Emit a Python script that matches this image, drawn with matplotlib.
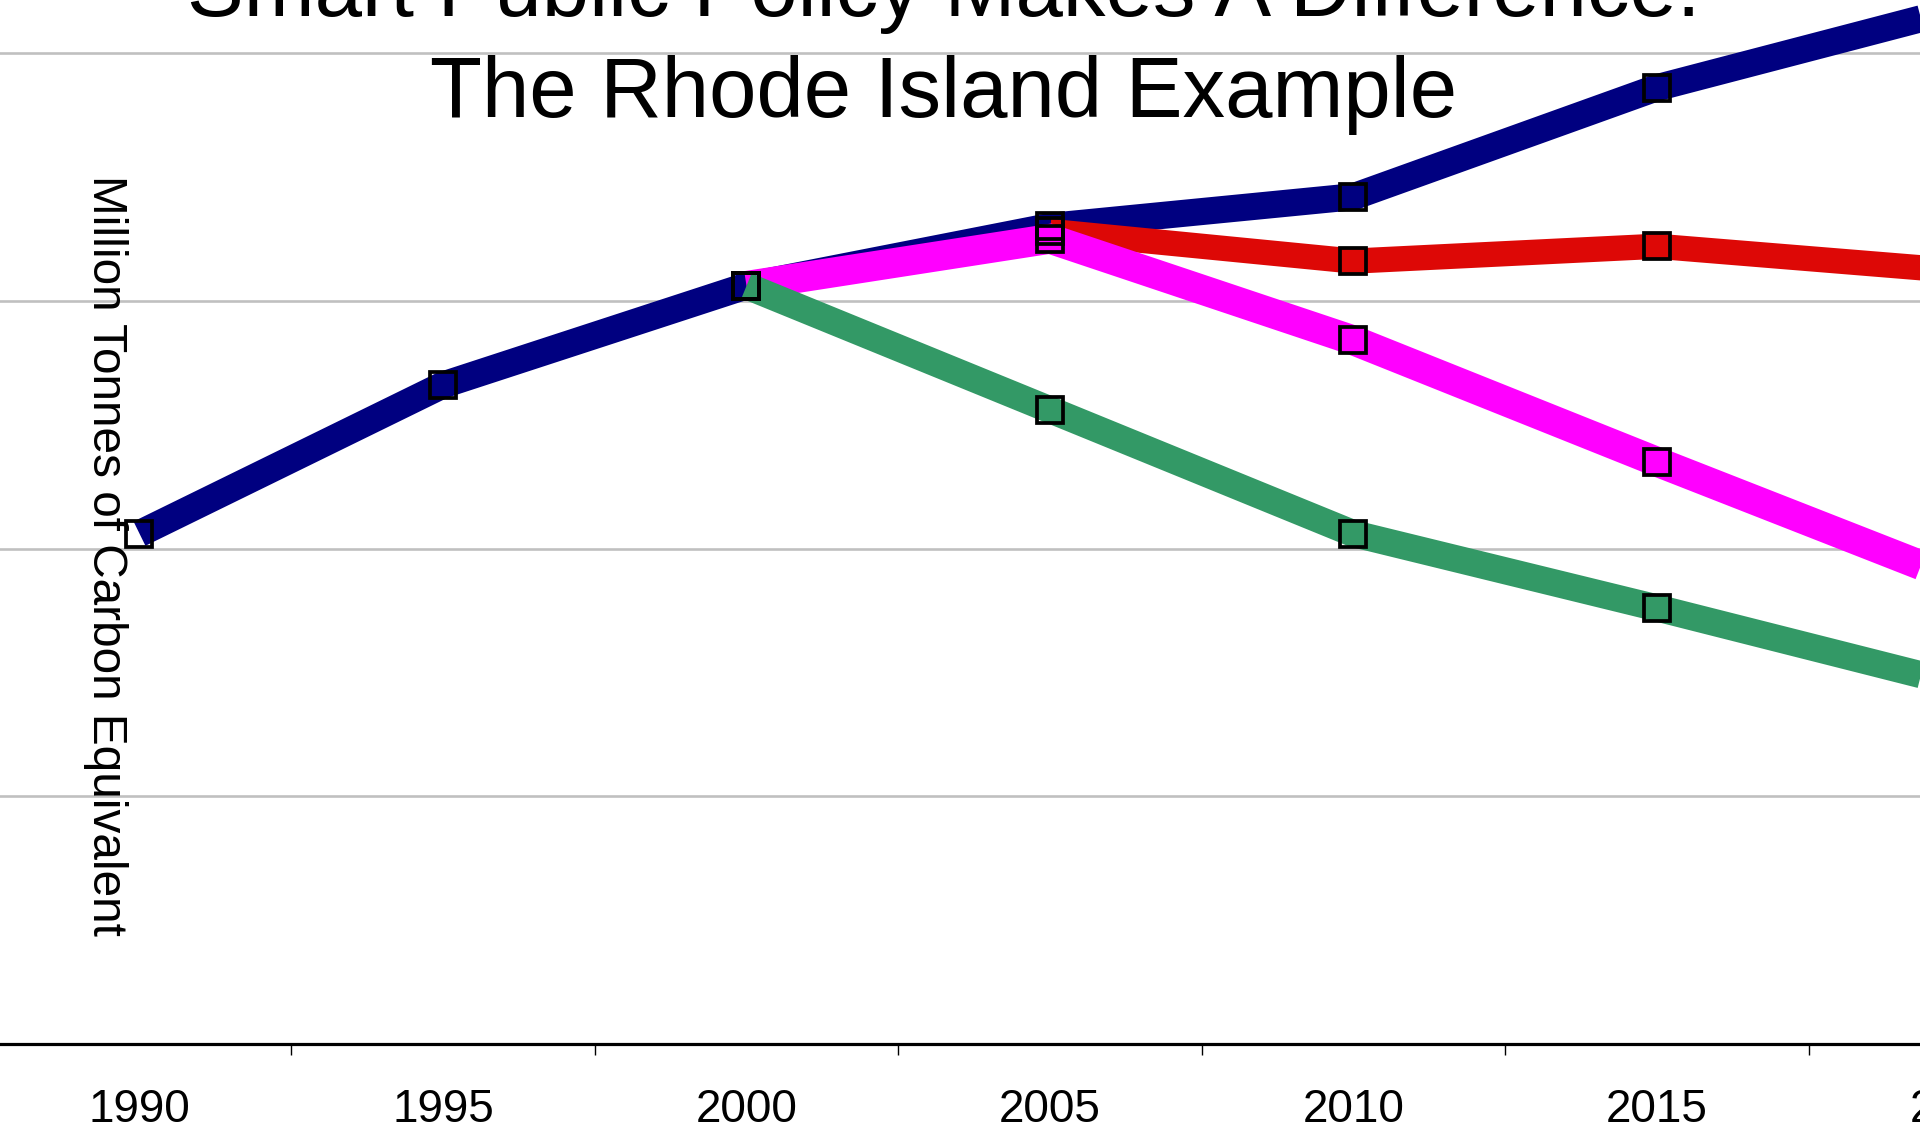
import matplotlib
matplotlib.use("Agg")
import matplotlib.pyplot as plt

plt.rcParams["font.family"] = ["Liberation Sans", "DejaVu Sans"]

# ---- data -----------------------------------------------------------------
years = [1990, 1995, 2000, 2005, 2010, 2015, 2020]
year_labels = ["1990", "1995", "2000", "2005", "2010", "2015", "2020"]

# Business-as-usual emissions (million tonnes carbon equivalent)
business_as_usual = [3.03, 3.33, 3.53, 3.65, 3.71, 3.93, 4.09]

# Policy scenarios branching off the baseline
stabilize_years = [2005, 2010, 2015, 2020]
stabilize = [3.64, 3.58, 3.61, 3.56]

moderate_years = [2000, 2005, 2010, 2015, 2020]
moderate_policy = [3.53, 3.625, 3.42, 3.175, 2.935]

strong_years = [2000, 2005, 2010, 2015, 2020]
strong_policy = [3.53, 3.28, 3.03, 2.88, 2.725]

gridline_values = [2.5, 3.0, 3.5, 4.0]
title_lines = ["Smart Public Policy Makes A Difference:", "The Rhode Island Example"]
y_label = "Million Tonnes of Carbon Equivalent"

# ---- figure ---------------------------------------------------------------
W, H = 1920, 1138
fig = plt.figure(figsize=(W / 100, H / 100), dpi=100)
fig.patch.set_facecolor("white")

# plot area is wider than the canvas: the category axis runs 1987.5 .. 2022.5
px_per_year = 60.7
x_first = 139.5
x_lo, x_hi = 1987.5, 2022.5
left_px = x_first - (years[0] - x_lo) * px_per_year
width_px = (x_hi - x_lo) * px_per_year
axis_px = 1044
ax = fig.add_axes([left_px / W, (H - axis_px) / H, width_px / W, axis_px / H])
ax.set_facecolor("white")

# horizontal gridlines
ax.set_yticks(gridline_values)
ax.yaxis.grid(True, color="#C0C0C0", linewidth=1.9)
ax.set_axisbelow(True)
ax.tick_params(axis="y", left=False, labelleft=False)

for side in ("left", "top", "right"):
    ax.spines[side].set_visible(False)
ax.spines["bottom"].set_color("black")
ax.spines["bottom"].set_linewidth(2.3)

# category axis: tick marks between years, labels under each year
ax.set_xticks([y + 2.5 for y in years[:-1]])
ax.set_xticklabels([])
ax.tick_params(axis="x", which="major", length=8, width=1.0, direction="out",
               color="black")
ax.set_xticks(years, minor=True)
ax.set_xticklabels(year_labels, minor=True)
ax.tick_params(axis="x", which="minor", length=0, pad=31.5, labelsize=33,
               labelcolor="black")

ax.set_xlim(x_lo, x_hi)
ax.set_ylim(2.0, 2.0 + axis_px / 495.5)

line_kw = dict(solid_joinstyle="miter", solid_capstyle="butt")
series = [
    (years, business_as_usual, "#000080", 19.5, 2),
    (stabilize_years, stabilize, "#DD0806", 18.2, 3),
    (moderate_years, moderate_policy, "#FF00FF", 21.5, 4),
    (strong_years, strong_policy, "#339966", 19.5, 5),
]
for xs, ys, color, lw, z in series:
    ax.plot(xs, ys, color=color, linewidth=lw, zorder=z, **line_kw)

for xs, ys, color, lw, z in series:
    ax.plot(xs, ys, linestyle="none", marker="s", markersize=19,
            markerfacecolor="none", markeredgecolor="black",
            markeredgewidth=2.7, zorder=10)

# titles and axis label
fig.text(944 / W, (H - 16) / H, title_lines[0], ha="center", va="baseline",
         fontsize=61.3, color="black")
fig.text(944 / W, (H - 117) / H, title_lines[1], ha="center", va="baseline",
         fontsize=61.3, color="black")
fig.text(93 / W, (H - 555) / H, y_label, rotation=270, rotation_mode="anchor",
         ha="center", va="baseline", fontsize=34.4, color="black")

fig.savefig("out.png", dpi=100, facecolor="white")
